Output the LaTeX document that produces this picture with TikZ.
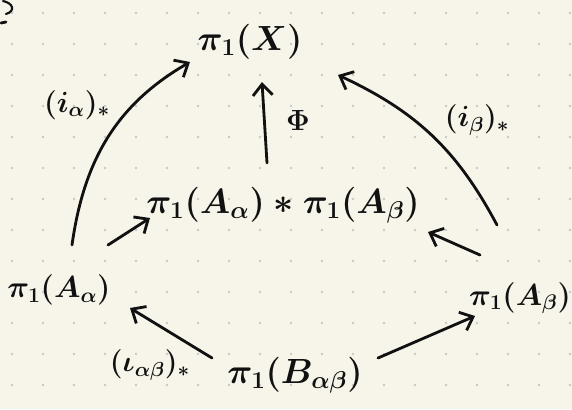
\documentclass[tikz,border=0pt]{standalone}
\usepackage{amsmath}
\usepackage{amssymb}
\usepackage{tikz}
\usetikzlibrary{positioning, arrows.meta}

\definecolor{paper}{RGB}{247,245,234}
\definecolor{dotgray}{RGB}{200,200,198}
\definecolor{ink}{RGB}{17,17,17}

\tikzset{
  obj/.style={inner sep=1pt, text=ink, font=\fontsize{26}{30}\selectfont\boldmath},
  side/.style={obj, scale=0.87, transform shape},
  lbl/.style={inner sep=1pt, text=ink, font=\fontsize{21}{25}\selectfont\boldmath},
  arr/.style={draw=ink, line width=2pt, line cap=round, -{Straight Barb[length=8pt,width=14pt,line width=2pt]}},
}

\begin{document}
\begin{tikzpicture}[x=0.025cm, y=-0.025cm]
\fill[paper] (0,0) rectangle (572,409);
\useasboundingbox (0,0) rectangle (572,409);
\foreach \i in {0,...,18}
  \foreach \j in {0,...,12}
    \fill[dotgray] (12+31*\i, 13+31*\j) circle (1.3);

% leftover strokes, top left corner
\draw[ink, line width=1.5pt, line cap=round] (3,1) .. controls (13,3) and (16,11) .. (6,14);
\draw[ink, line width=2pt, line cap=round] (1,23) -- (6,22);

\node[obj] (X) at (250,42) {$\pi_1(X)$};
\node[obj] (AB) at (283,205) {$\pi_1(A_\alpha) * \pi_1(A_\beta)$};
\node[side] (Aa) at (59,290) {$\pi_1(A_\alpha)$};
\node[side] (Ab) at (520,298) {$\pi_1(A_\beta)$};
\node[obj] (B) at (295,375) {$\pi_1(B_{\alpha\beta})$};

\node[lbl] (ia) at (77,105) {$(i_\alpha)_*$};
\node[lbl] (ib) at (477,120) {$(i_\beta)_*$};
\node[lbl] (phi) at (298,120) {$\Phi$};
\node[lbl] (iab) at (150,365) {$(\iota_{\alpha\beta})_*$};

\draw[arr] ([shift={(13,-45)}]Aa.center) to[out=82, in=-150] ([shift={(-60,20)}]X.center);
\draw[arr] ([shift={(-23,-73)}]Ab.center) to[out=118, in=-25] ([shift={(88,33)}]X.center);
\draw[arr] ([shift={(-16,-42)}]AB.center) -- ([shift={(12,40)}]X.center);
\draw[arr] ([shift={(49,-45)}]Aa.center) -- ([shift={(-133,13)}]AB.center);
\draw[arr] ([shift={(-40,-43)}]Ab.center) -- ([shift={(145,27)}]AB.center);
\draw[arr] ([shift={(-83,-17)}]B.center) -- ([shift={(71,18)}]Aa.center);
\draw[arr] ([shift={(83,-17)}]B.center) -- ([shift={(-45,18)}]Ab.center);
\end{tikzpicture}
\end{document}
